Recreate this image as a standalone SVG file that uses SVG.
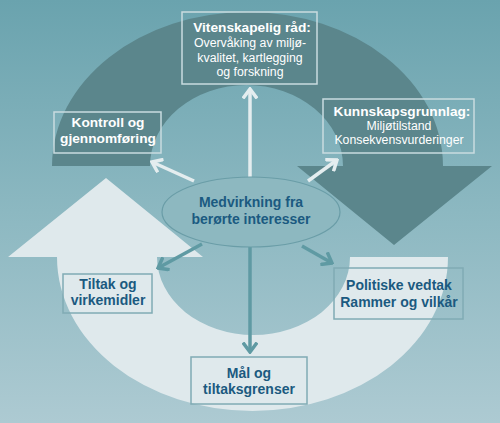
<svg xmlns="http://www.w3.org/2000/svg" width="500" height="423" viewBox="0 0 500 423">
  <defs>
    <linearGradient id="bg" x1="0" y1="0" x2="0" y2="1">
      <stop offset="0" stop-color="#6aa3ae"/>
      <stop offset="0.5" stop-color="#8cb8c1"/>
      <stop offset="1" stop-color="#adcad2"/>
    </linearGradient>
    <marker id="hl" viewBox="-10 -8 12 16" markerWidth="12" markerHeight="16" refX="0" refY="0" orient="auto" markerUnits="userSpaceOnUse">
      <path d="M -8,-6 L 0,0 L -8,6" fill="none" stroke="#e4edef" stroke-width="3.5" stroke-linecap="square"/>
    </marker>
    <marker id="hd" viewBox="-10 -8 12 16" markerWidth="12" markerHeight="16" refX="0" refY="0" orient="auto" markerUnits="userSpaceOnUse">
      <path d="M -8,-6 L 0,0 L -8,6" fill="none" stroke="#5f9aa3" stroke-width="3.5" stroke-linecap="square"/>
    </marker>
    <style>
      .box { fill: none; stroke-width: 1.5; }
      .boxl { stroke: #c9dbdf; }
      .boxd { stroke: #80abb4; }
      text { font-family: "Liberation Sans", Arial, sans-serif; text-anchor: middle; }
      .tw { fill: #ffffff; font-weight: bold; font-size: 13.7px; }
      .tr { fill: #ffffff; font-size: 12.3px; }
      .tb { fill: #1b5a80; font-weight: bold; font-size: 14px; }
      .al { stroke: #e4edef; stroke-width: 3.5; fill: none; marker-end: url(#hl); }
      .ad { stroke: #5f9aa3; stroke-width: 3.5; fill: none; marker-end: url(#hd); }
    </style>
  </defs>
  <rect x="0" y="0" width="500" height="423" fill="url(#bg)"/>
  <g id="cycle">
    <path id="dark-arc" d="M 52,166 A 195.5 154 0 0 1 443,166 L 492,166 L 394,245 L 297,166 L 343,166 A 96.5 81 0 0 0 150,166 Z" fill="#5b868c"/>
    <path id="light-arc" d="M 448,257 A 195.5 154 0 0 1 57,257 L 8,257 L 106,178 L 203,257 L 157,257 A 96.5 78 0 0 0 350,257 Z" fill="#dfe9ec"/>
  </g>
  <g id="connectors">
    <line class="al" x1="250" y1="178" x2="250" y2="89"/>
    <line class="al" x1="194" y1="181" x2="152" y2="162"/>
    <line class="al" x1="308" y1="181" x2="337" y2="160"/>
    <line class="ad" x1="202" y1="244" x2="158" y2="268"/>
    <line class="ad" x1="302" y1="246" x2="332" y2="263"/>
    <line class="ad" x1="250" y1="247" x2="250" y2="352"/>
  </g>
  <g id="medvirkning">
    <ellipse cx="251" cy="212" rx="89" ry="35" fill="#8db8c0" stroke="#6a9da7" stroke-width="1.2"/>
    <text class="tb" x="251" y="207">Medvirkning fra</text>
    <text class="tb" x="251" y="224">berørte interesser</text>
  </g>
  <g id="vitenskapelig">
    <rect class="box boxl" x="182" y="12" width="135" height="72"/>
    <text class="tw" x="252" y="32">Vitenskapelig råd:</text>
    <text class="tr" x="250" y="47">Overvåking av miljø-</text>
    <text class="tr" x="250" y="62">kvalitet, kartlegging</text>
    <text class="tr" x="250" y="76">og forskning</text>
  </g>
  <g id="kontroll">
    <rect class="box boxl" x="54" y="112" width="107" height="41"/>
    <text class="tw" x="108" y="127">Kontroll og</text>
    <text class="tw" x="108" y="143">gjennomføring</text>
  </g>
  <g id="kunnskap">
    <rect class="box boxl" x="323" y="99" width="151" height="54"/>
    <text class="tw" x="402" y="116">Kunnskapsgrunnlag:</text>
    <text class="tr" x="399" y="130">Miljøtilstand</text>
    <text class="tr" x="399" y="144">Konsekvensvurderinger</text>
  </g>
  <g id="tiltak">
    <rect class="box boxd" x="63" y="274" width="89" height="39"/>
    <text class="tb" x="108" y="289">Tiltak og</text>
    <text class="tb" x="108" y="305">virkemidler</text>
  </g>
  <g id="politiske">
    <rect class="box boxd" x="334" y="268" width="129" height="51"/>
    <text class="tb" x="399" y="290">Politiske vedtak</text>
    <text class="tb" x="399" y="307">Rammer og vilkår</text>
  </g>
  <g id="maal">
    <rect class="box boxd" x="191" y="357" width="116" height="47"/>
    <text class="tb" x="249" y="378">Mål og</text>
    <text class="tb" x="249" y="394">tiltaksgrenser</text>
  </g>
</svg>
